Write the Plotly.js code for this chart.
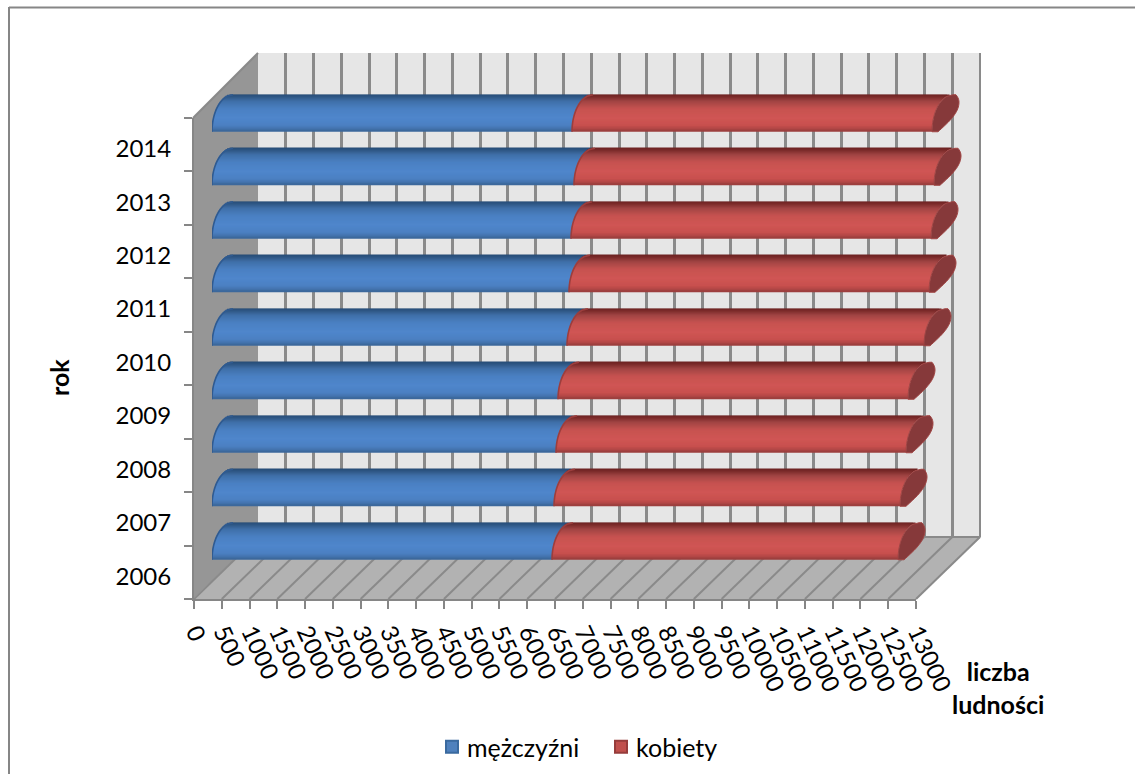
<!DOCTYPE html>
<html lang="pl">
<head>
<meta charset="utf-8">
<title>Liczba ludności</title>
<script src="https://cdn.plot.ly/plotly-3.0.1.min.js"></script>
<style>html,body{margin:0;padding:0;background:#fff;overflow:hidden}</style>
</head>
<body>
<div id="chart" style="width:1135px;height:774px"></div>
<script>
// Population by sex, stacked per year
const years = ['2006','2007','2008','2009','2010','2011','2012','2013','2014'];
const men = [6122,6158,6194,6230,6392,6428,6464,6518,6482];
const women = [6230,6230,6302,6302,6428,6482,6482,6482,6482];
const valueTicks = [0,500,1000,1500,2000,2500,3000,3500,4000,4500,5000,5500,6000,6500,7000,7500,8000,8500,9000,9500,10000,10500,11000,11500,12000,12500,13000];

const W = 1135, H = 774;
const FONT = 'Lato, "Open Sans", sans-serif';

// Pixel frame of the pseudo-3D box
const front = {l: 194, r: 916, t: 118, b: 599};
const back = {l: 258, r: 980, t: 53, b: 537};
const tube = {l: 212, r: 1000, t: 86.5, b: 568};
const domX = b => [b.l / W, b.r / W];
const domY = b => [1 - b.b / H, 1 - b.t / H];

const unitsPerPx = 13000 / 722;
const yearsPerPx = 9 / (tube.b - tube.t);
const tubeHeightPx = 37;
const lean = 21;

// Outline of a cylinder's tilted end, t = 0 at the underside and 1 at the top
const leftEdge = t => lean * (1 - Math.sqrt(Math.max(0, 1 - t * t)));
const rightEdge = t => t <= 0.8 ? 6 + 21 * Math.sin(t / 0.8 * Math.PI / 2)
                                : 27 - 3 * Math.pow((t - 0.8) / 0.2, 2);

function hexToRgb(h) { return [1, 3, 5].map(i => parseInt(h.slice(i, i + 2), 16)); }
function shade(stops, s) {
  for (let i = 1; i < stops.length; i++) {
    if (s <= stops[i][0]) {
      const f = (s - stops[i - 1][0]) / (stops[i][0] - stops[i - 1][0]);
      const a = hexToRgb(stops[i - 1][1]), b = hexToRgb(stops[i][1]);
      return 'rgb(' + a.map((v, k) => Math.round(v + (b[k] - v) * f)).join(',') + ')';
    }
  }
  return stops[stops.length - 1][1];
}
// Shading from the top of a cylinder (0) to its underside (1)
const blueShade = [[0,'#264872'],[0.08,'#2e5785'],[0.2,'#3f6fa8'],[0.4,'#4a80c2'],[0.65,'#4f86cc'],[0.85,'#4b80c2'],[0.95,'#4373ad'],[1,'#3a6496']];
const redShade = [[0,'#6a2120'],[0.08,'#7a2b2a'],[0.2,'#a04443'],[0.4,'#c65250'],[0.65,'#d05654'],[0.85,'#c8504e'],[0.95,'#b04645'],[1,'#963c3b']];

const yearNums = years.map(Number);
const traces = [];
// Carriers for the front and back axes
traces.push({type: 'scatter', mode: 'none', x: [0], y: [years[0]], xaxis: 'x', yaxis: 'y', showlegend: false, hoverinfo: 'skip'});
traces.push({type: 'scatter', mode: 'none', x: [0], y: [2006], xaxis: 'x2', yaxis: 'y2', showlegend: false, hoverinfo: 'skip'});

// Legend keys with the darker outline of the series colour; their points lie off the axis
traces.push({type: 'bar', orientation: 'h', name: 'mężczyźni', x: [0], y: [2000], xaxis: 'x3', yaxis: 'y3', hoverinfo: 'skip',
  marker: {color: '#4f81bd', line: {color: '#3a6a9f', width: 2}}});
traces.push({type: 'bar', orientation: 'h', name: 'kobiety', x: [0], y: [2000], xaxis: 'x3', yaxis: 'y3', hoverinfo: 'skip',
  marker: {color: '#c0504d', line: {color: '#963c3b', width: 2}}});

// Each cylinder is a stack of thin sheared bars so the round shading can follow the tilt.
// Painted from the top band down, each band slightly overlapping the one above it.
const bands = Math.round(tubeHeightPx);
for (let i = bands - 1; i >= 0; i--) {
  const t = (i + 0.5) / bands;
  const offsetPx = (i / bands - 0.5) * tubeHeightPx;
  const heightPx = i === bands - 1 ? 1 : 2;
  const common = {
    type: 'bar', orientation: 'h', y: yearNums, xaxis: 'x3', yaxis: 'y3',
    offset: offsetPx * yearsPerPx, width: heightPx * yearsPerPx, hoverinfo: 'skip', showlegend: false
  };
  const shift = leftEdge(t) * unitsPerPx;
  traces.push(Object.assign({}, common, {
    name: 'mężczyźni',
    x: men, base: men.map(() => shift),
    marker: {color: shade(blueShade, 1 - t), line: {width: 0}}
  }));
  traces.push(Object.assign({}, common, {
    name: 'kobiety',
    x: women, base: men.map(v => v + shift),
    marker: {color: shade(redShade, 1 - t), line: {width: 0}}
  }));
}

function tiltedPath(xStart, yearNum) {
  const pts = [];
  for (let k = 0; k <= 24; k++) {
    const t = k / 24;
    const yPx = (t - 0.5) * tubeHeightPx;
    pts.push((k ? 'L' : 'M') + (xStart + leftEdge(t) * unitsPerPx).toFixed(1) + ',' + (yearNum + yPx * yearsPerPx).toFixed(4));
  }
  return pts;
}
function capPath(xStart, yearNum) {
  const pts = tiltedPath(xStart, yearNum);
  for (let k = 24; k >= 0; k--) {
    const t = k / 24;
    const yPx = (t - 0.5) * tubeHeightPx;
    pts.push('L' + (xStart + rightEdge(t) * unitsPerPx).toFixed(1) + ',' + (yearNum + yPx * yearsPerPx).toFixed(4));
  }
  return pts.join(' ') + ' Z';
}

const shapes = [];
const poly = (d, fill) => shapes.push({type: 'path', xref: 'paper', yref: 'paper', layer: 'below', path: d, fillcolor: fill, line: {width: 0}});
const pxX = v => v / W, pxY = v => 1 - v / H;
const pathOf = pts => pts.map((p, i) => (i ? 'L' : 'M') + pxX(p[0]).toFixed(5) + ',' + pxY(p[1]).toFixed(5)).join(' ') + ' Z';
const wallLine = (x0, y0, x1, y1) => shapes.push({type: 'line', xref: 'paper', yref: 'paper', layer: 'below',
  x0: pxX(x0), y0: pxY(y0), x1: pxX(x1), y1: pxY(y1), line: {color: '#8a8a8a', width: 2}});

// Back wall, side wall and floor
poly(pathOf([[back.l, back.t], [back.r, back.t], [back.r, back.b], [back.l, back.b]]), '#e6e6e6');
poly(pathOf([[front.l - 1, front.t], [back.l, back.t], [back.l, back.b], [front.l - 1, front.b]]), '#969696');
poly(pathOf([[front.l - 1, front.b], [back.l, back.b], [back.r + 1, back.b], [front.r, front.b]]), '#b2b2b2');
// Floor lines follow the value ticks towards the back wall
valueTicks.forEach(v => {
  const f = front.l + (front.r - front.l) * v / 13000;
  const b = back.l + (back.r - back.l) * v / 13000;
  wallLine(f, front.b, b, back.b);
});
wallLine(front.l - 1, front.t, back.l, back.t);
wallLine(back.l, back.b, back.r, back.b);
wallLine(back.r, back.t, back.r, back.b);

// Chart frame
const frame = (x0, y0, x1, y1) => shapes.push({type: 'line', xref: 'paper', yref: 'paper', layer: 'below',
  x0: pxX(x0), y0: pxY(y0), x1: pxX(x1), y1: pxY(y1), line: {color: '#868686', width: 2}});
frame(9, 7.5, 1135, 7.5);
frame(9, 7, 9, 774);

// Tilted ends drawn on the cylinder axes
yearNums.forEach((yr, i) => {
  const common = {type: 'path', xref: 'x3', yref: 'y3', layer: 'above'};
  shapes.push(Object.assign({}, common, {path: tiltedPath(0, yr).join(' '), line: {color: '#2f5a90', width: 1.6}}));
  shapes.push(Object.assign({}, common, {path: tiltedPath(men[i], yr).join(' '), line: {color: '#9c3e3d', width: 1.6}}));
  shapes.push(Object.assign({}, common, {path: capPath(men[i] + women[i], yr), fillcolor: '#86393a', line: {color: '#a04443', width: 1}}));
});

const hiddenAxis = {showline: false, zeroline: false, showgrid: false, ticks: '', showticklabels: false, fixedrange: true};
const layout = {
  width: W, height: H,
  margin: {l: 0, r: 0, t: 0, b: 0, pad: 0},
  paper_bgcolor: '#fff', plot_bgcolor: 'rgba(0,0,0,0)',
  barmode: 'overlay', font: {family: FONT, color: '#000', size: 24},
  xaxis: {domain: domX(front), range: [0, 13000], anchor: 'y', tickvals: valueTicks, ticktext: valueTicks.map(String),
    tickangle: 65, ticks: 'outside', ticklen: 8, tickwidth: 2, tickcolor: '#868686', ticklabelshift: 2,
    showline: true, linecolor: '#868686', linewidth: 2, showgrid: false, zeroline: false, fixedrange: true,
    tickfont: {family: FONT, size: 24, color: '#000'}},
  yaxis: {domain: domY(front), type: 'category', categoryorder: 'array', categoryarray: years, range: [-0.5, 8.5], anchor: 'x',
    tickson: 'boundaries', ticks: 'outside', ticklen: 8, tickwidth: 2, tickcolor: '#868686',
    ticklabelstandoff: 16, ticklabelshift: 4,
    showline: true, linecolor: '#868686', linewidth: 2, showgrid: false, zeroline: false, fixedrange: true,
    tickfont: {family: FONT, size: 24, color: '#000'}},
  xaxis2: Object.assign({}, hiddenAxis, {domain: domX(back), range: [0, 13000], anchor: 'y2', tickvals: valueTicks, showgrid: true, gridcolor: '#8a8a8a', gridwidth: 2.5}),
  yaxis2: Object.assign({}, hiddenAxis, {domain: domY(back), range: [2005.5, 2014.5], anchor: 'x2'}),
  xaxis3: Object.assign({}, hiddenAxis, {domain: domX(tube), range: [0, (tube.r - tube.l) * unitsPerPx], anchor: 'y3'}),
  yaxis3: Object.assign({}, hiddenAxis, {domain: domY(tube), range: [2005.5, 2014.5], anchor: 'x3'}),
  shapes: shapes,
  showlegend: true,
  legend: {orientation: 'h', x: 432 / W, y: 1 - 724 / H, xanchor: 'left', yanchor: 'top', traceorder: 'normal',
    entrywidth: 124, entrywidthmode: 'pixels',
    font: {family: FONT, size: 25, color: '#000'}, bgcolor: 'rgba(0,0,0,0)'},
  annotations: [
    {xref: 'paper', yref: 'paper', x: 59 / W, y: 1 - 378 / H, xanchor: 'center', yanchor: 'middle', text: '<b>rok</b>', textangle: -90, showarrow: false,
      font: {family: FONT, size: 25, color: '#000'}},
    {xref: 'paper', yref: 'paper', x: 998 / W, y: 1 - 687 / H, xanchor: 'center', yanchor: 'middle', text: '<b>liczba<br>ludności</b>', showarrow: false, align: 'center',
      font: {family: FONT, size: 25, color: '#000'}}
  ]
};
Plotly.newPlot('chart', traces, layout, {displayModeBar: false}).then(gd => {
  // Bring the legend text closer to its key
  gd.querySelectorAll('.legendtext').forEach(t => t.setAttribute('x', +t.getAttribute('x') - 5));
});
</script>
</body>
</html>
